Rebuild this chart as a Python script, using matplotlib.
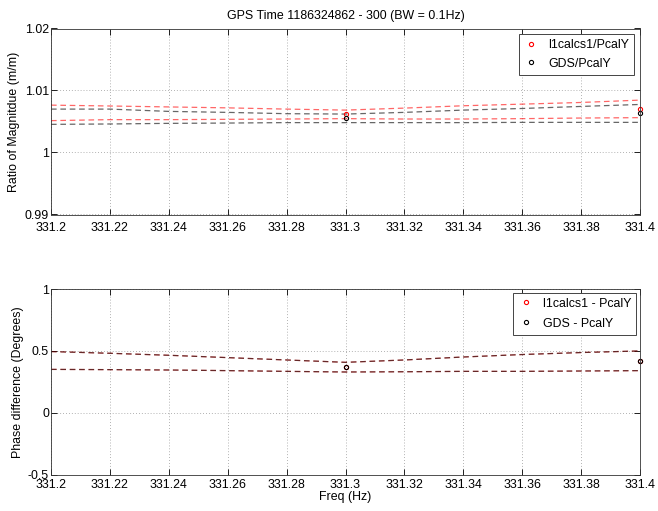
import matplotlib
matplotlib.use("Agg")
import matplotlib.pyplot as plt

plt.rcParams['font.family'] = ['Liberation Sans', 'DejaVu Sans']

# frequency grid for the uncertainty envelopes
freq_env = [331.20, 331.22, 331.24, 331.26, 331.28, 331.30,
            331.32, 331.34, 331.36, 331.38, 331.40]

# measured points
freq_pts = [331.3, 331.4]
mag_l1 = [1.00615, 1.00695]
mag_gds = [1.00556, 1.00630]
pha_l1 = [0.368, 0.419]
pha_gds = [0.368, 0.419]

# magnitude ratio envelopes
mag_l1_hi = [1.00764, 1.00750, 1.00735, 1.00720, 1.00700, 1.00684,
             1.00716, 1.00754, 1.00780, 1.00807, 1.00845]
mag_l1_lo = [1.00514, 1.00530, 1.00530, 1.00535, 1.00540, 1.00546,
             1.00540, 1.00540, 1.00546, 1.00556, 1.00562]
mag_gds_hi = [1.00700, 1.00700, 1.00663, 1.00647, 1.00626, 1.00620,
              1.00647, 1.00684, 1.00710, 1.00743, 1.00775]
mag_gds_lo = [1.00454, 1.00460, 1.00470, 1.00475, 1.00482, 1.00482,
              1.00482, 1.00482, 1.00486, 1.00486, 1.00486]

# phase difference envelopes
pha_l1_hi = [0.495, 0.481, 0.465, 0.446, 0.427, 0.408,
             0.427, 0.451, 0.471, 0.487, 0.500]
pha_l1_lo = [0.351, 0.349, 0.346, 0.341, 0.335, 0.330,
             0.332, 0.335, 0.335, 0.338, 0.341]
pha_gds_hi = pha_l1_hi
pha_gds_lo = pha_l1_lo

xticks = [331.2, 331.22, 331.24, 331.26, 331.28, 331.3,
          331.32, 331.34, 331.36, 331.38, 331.4]
xticklabels = ['331.2', '331.22', '331.24', '331.26', '331.28', '331.3',
               '331.32', '331.34', '331.36', '331.38', '331.4']

fs = 8.9
fig = plt.figure(figsize=(6.58, 5.11), dpi=100)
ax1 = fig.add_axes([51/658, 1 - 214.5/511, 589/658, 186/511])
ax2 = fig.add_axes([51/658, 1 - 474.8/511, 589/658, 185.8/511])

dash = dict(linestyle=(0, (4.5, 3)), linewidth=0.9)


def style(ax, xpad):
    ax.set_xlim(331.2, 331.4)
    ax.set_xticks(xticks)
    ax.set_xticklabels(xticklabels)
    ax.grid(True, linestyle=(0, (1, 2.5)), color='#999999', linewidth=0.6)
    ax.tick_params(direction='in', top=True, right=True, length=4,
                   width=0.6, labelsize=fs)
    ax.tick_params(axis='x', pad=xpad)
    ax.tick_params(axis='y', pad=1.5)
    for s in ax.spines.values():
        s.set_linewidth(0.6)
        s.set_color('#333333')


ax1.plot(freq_env, mag_l1_hi, color='red', alpha=0.6, **dash)
ax1.plot(freq_env, mag_l1_lo, color='red', alpha=0.6, **dash)
ax1.plot(freq_env, mag_gds_hi, color='black', alpha=0.6, **dash)
ax1.plot(freq_env, mag_gds_lo, color='black', alpha=0.6, **dash)
ax1.plot(freq_pts, mag_l1, 'o', mfc='none', mec='red', ms=3, mew=0.8,
         label='l1calcs1/PcalY', clip_on=False)
ax1.plot(freq_pts, mag_gds, 'o', mfc='none', mec='black', ms=3, mew=0.8,
         label='GDS/PcalY', clip_on=False)
ax1.set_ylim(0.99, 1.02)
ax1.set_yticks([0.99, 1.0, 1.01, 1.02])
ax1.set_yticklabels(['0.99', '1', '1.01', '1.02'])
style(ax1, 5.2)
ax1.set_ylabel('Ratio of Magnitdue (m/m)', fontsize=fs, labelpad=3)
ax1.set_title('GPS Time 1186324862 - 300 (BW = 0.1Hz)', fontsize=fs, pad=7)
leg1 = ax1.legend(loc='upper right', fontsize=fs, fancybox=False,
                  edgecolor='#444444', framealpha=1, handlelength=1.2,
                  borderaxespad=0.45, labelspacing=0.55)
leg1.get_frame().set_linewidth(0.7)

ax2.plot(freq_env, pha_l1_hi, color='red', alpha=0.6, **dash)
ax2.plot(freq_env, pha_l1_lo, color='red', alpha=0.6, **dash)
ax2.plot(freq_env, pha_gds_hi, color='black', alpha=0.6, **dash)
ax2.plot(freq_env, pha_gds_lo, color='black', alpha=0.6, **dash)
ax2.plot(freq_pts, pha_l1, 'o', mfc='none', mec='red', ms=3, mew=0.8,
         label='l1calcs1 - PcalY', clip_on=False)
ax2.plot(freq_pts, pha_gds, 'o', mfc='none', mec='black', ms=3, mew=0.8,
         label='GDS - PcalY', clip_on=False)
ax2.set_ylim(-0.5, 1)
ax2.set_yticks([-0.5, 0, 0.5, 1])
ax2.set_yticklabels(['-0.5', '0', '0.5', '1'])
style(ax2, 2.7)
ax2.set_ylabel('Phase difference (Degrees)', fontsize=fs, labelpad=3)
ax2.set_xlabel('Freq (Hz)', fontsize=fs, labelpad=0.5)
leg2 = ax2.legend(loc='upper right', fontsize=fs, fancybox=False,
                  edgecolor='#444444', framealpha=1, handlelength=1.2,
                  borderaxespad=0.3, labelspacing=0.65)
leg2.get_frame().set_linewidth(0.7)

fig.savefig('out.png', dpi=100)
